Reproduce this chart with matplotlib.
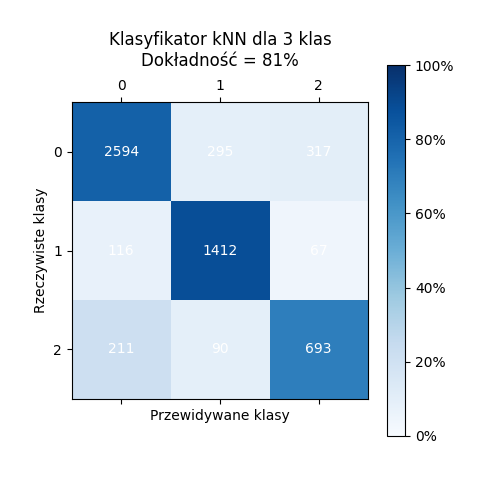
import matplotlib
matplotlib.use("Agg")
import matplotlib.pyplot as plt
import numpy as np
from matplotlib.ticker import PercentFormatter

labels = ["0", "1", "2"]
counts = np.array([[2594, 295, 317],
                   [116, 1412, 67],
                   [211, 90, 693]])
accuracy = 81

norm = counts / counts.sum(axis=1, keepdims=True)

fig = plt.figure(figsize=(4.78, 4.79), dpi=100)
ax = fig.add_subplot(1, 1, 1)
fig.subplots_adjust(left=0.15, right=0.925, top=0.864, bottom=0.09)
im = ax.matshow(norm * 100, cmap="Blues", vmin=0, vmax=100)
cb = fig.colorbar(im)
cb.ax.yaxis.set_major_formatter(PercentFormatter(decimals=0))

for i in range(3):
    for j in range(3):
        ax.text(j, i, str(counts[i, j]), ha="center", va="center", color="white")

ax.set_xticks(range(3))
ax.set_yticks(range(3))
ax.set_xticklabels(labels)
ax.set_yticklabels(labels)
ax.set_xlabel("Przewidywane klasy")
ax.set_ylabel("Rzeczywiste klasy")
ax.set_title("Klasyfikator kNN dla 3 klas\nDokładność = %d%%" % accuracy, pad=26)

fig.savefig("out.png")
